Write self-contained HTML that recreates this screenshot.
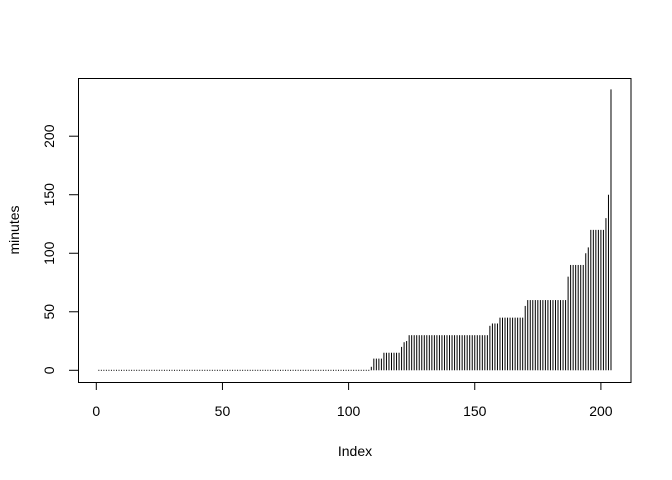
<!DOCTYPE html>
<html><head><meta charset="utf-8"><style>
body{margin:0;background:#fff}
svg{display:block;font-family:"Liberation Sans",Arial,sans-serif}
</style></head><body>
<svg id="chart" width="672" height="480" viewBox="0 0 672 480" xmlns="http://www.w3.org/2000/svg">
<rect x="78.5" y="78.5" width="552.5" height="304" fill="none" stroke="#000" stroke-width="1"/>
<g id="bars"></g>
<g id="axes"></g>
<text x="355" y="456" font-size="14" text-anchor="middle">Index</text>
<text transform="translate(19,230) rotate(-90)" font-size="14" text-anchor="middle">minutes</text>
</svg>
<script>
const zeroCount = 108;
const nonZeroValues = [3,10,10,10,10,15,15,15,15,15,15,15,20,24,25,
30,30,30,30,30,30,30,30,30,30,30,30,30,30,30,30,30,30,30,30,30,30,30,30,30,30,30,30,30,30,30,30,
38,40,40,40,45,45,45,45,45,45,45,45,45,45,55,
60,60,60,60,60,60,60,60,60,60,60,60,60,60,60,60,
80,90,90,90,90,90,90,100,105,120,120,120,120,120,120,130,150,240];
const values = new Array(zeroCount).fill(0).concat(nonZeroValues);
const xTicks = [0,50,100,150,200];
const yTicks = [0,50,100,150,200];

const NS = "http://www.w3.org/2000/svg";
function xs(i){ return 96.3 + (i) * 2.523; }
function ys(v){ return 370.3 - v * 1.1705; }

const bars = document.getElementById('bars');
values.forEach((v, k) => {
  const i = k + 1;
  const x = xs(i);
  let el;
  if (v === 0) {
    el = document.createElementNS(NS, 'rect');
    el.setAttribute('x', x - 0.5); el.setAttribute('y', ys(0) - 0.5);
    el.setAttribute('width', 1); el.setAttribute('height', 1);
    el.setAttribute('fill', '#000');
  } else {
    el = document.createElementNS(NS, 'line');
    el.setAttribute('x1', x); el.setAttribute('x2', x);
    el.setAttribute('y1', ys(0)); el.setAttribute('y2', ys(v));
    el.setAttribute('stroke', '#000'); el.setAttribute('stroke-width', 1);
  }
  
  
  bars.appendChild(el);
});

const axes = document.getElementById('axes');
xTicks.forEach(t => {
  const l = document.createElementNS(NS, 'line');
  l.setAttribute('x1', xs(t)); l.setAttribute('x2', xs(t));
  l.setAttribute('y1', 382.5); l.setAttribute('y2', 390);
  l.setAttribute('stroke', '#000');
  
  
  axes.appendChild(l);
  const tx = document.createElementNS(NS, 'text');
  tx.setAttribute('x', xs(t)); tx.setAttribute('y', 416);
  tx.setAttribute('font-size', '14'); tx.setAttribute('text-anchor', 'middle');
  tx.textContent = t;
  
  
  axes.appendChild(tx);
});
yTicks.forEach(t => {
  const l = document.createElementNS(NS, 'line');
  l.setAttribute('x1', 69); l.setAttribute('x2', 78.5);
  l.setAttribute('y1', ys(t)); l.setAttribute('y2', ys(t));
  l.setAttribute('stroke', '#000');
  
  
  axes.appendChild(l);
  const tx = document.createElementNS(NS, 'text');
  tx.setAttribute('transform', 'translate(54,' + ys(t) + ') rotate(-90)');
  tx.setAttribute('font-size', '14'); tx.setAttribute('text-anchor', 'middle');
  tx.textContent = t;
  
  
  axes.appendChild(tx);
});
</script>
</body></html>
